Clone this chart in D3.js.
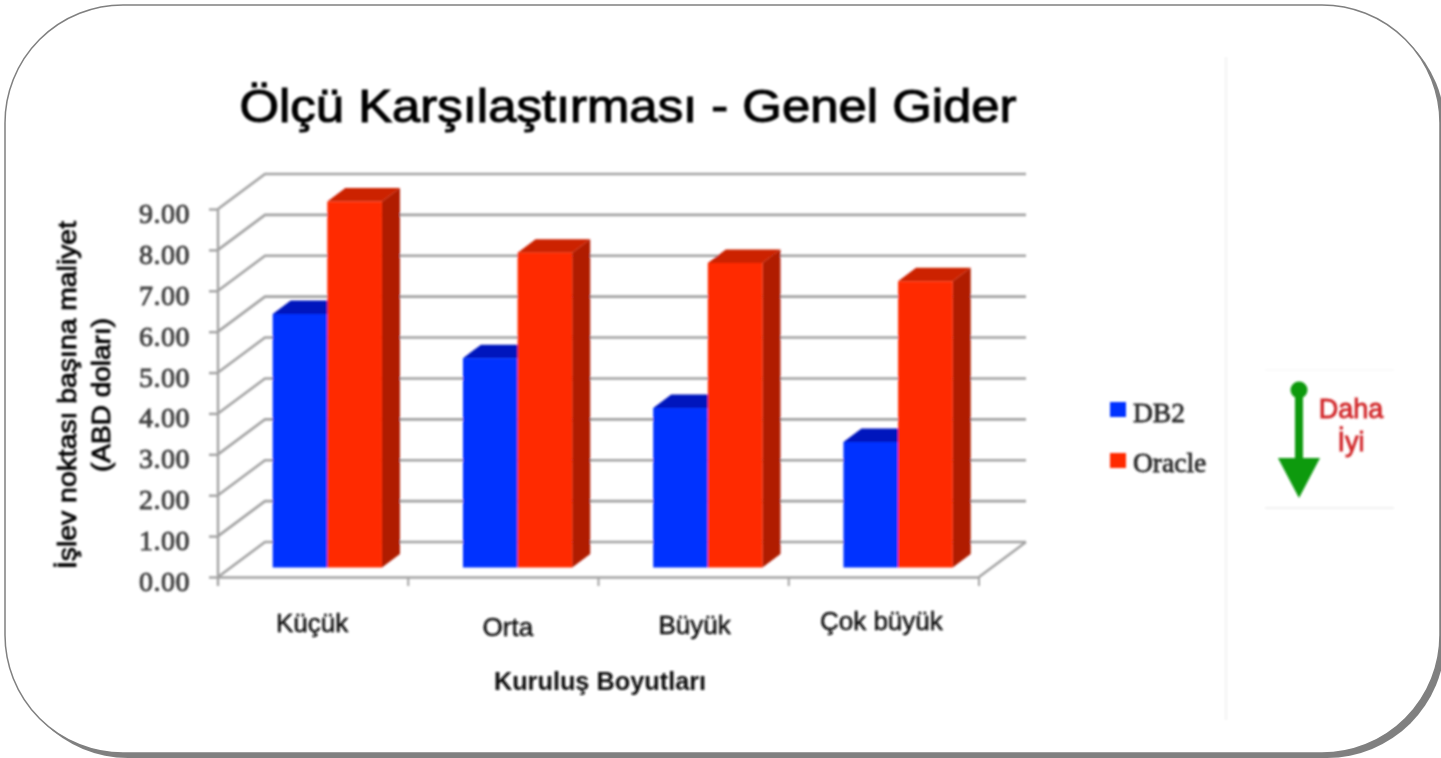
<!DOCTYPE html>
<html><head><meta charset="utf-8">
<script src="https://cdnjs.cloudflare.com/ajax/libs/d3/7.8.5/d3.min.js"></script>
<style>html,body{margin:0;padding:0;background:#fff;overflow:hidden}svg{display:block}</style>
</head><body><svg id="c" width="1441" height="758"></svg>
<script>
const titleText = "Ölçü Karşılaştırması - Genel Gider";
const categories = ["Küçük", "Orta", "Büyük", "Çok büyük"];
const seriesNames = ["DB2", "Oracle"];
const db2Values = [6.2, 5.12, 3.9, 3.07];
const oracleValues = [8.95, 7.7, 7.45, 7.0];
const yTicks = [0,1,2,3,4,5,6,7,8,9];
const yTitleLines = ["İşlev noktası başına maliyet", "(ABD doları)"];
const xTitle = "Kuruluş Boyutları";
const noteLines = ["Daha", "İyi"];

const SANS = "'Liberation Sans',Arial,sans-serif", SERIF = "'Liberation Serif',serif";
const svg = d3.select("#c");
const defs = svg.append("defs");
defs.append("filter").attr("id","soft").attr("filterUnits","userSpaceOnUse")
  .attr("x",0).attr("y",0).attr("width",1441).attr("height",758)
  .append("feGaussianBlur").attr("stdDeviation",0.95);

// frame
svg.append("rect").attr("x",10).attr("y",10).attr("width",1435).attr("height",748).attr("rx",118).attr("fill","#808080");
svg.append("rect").attr("x",5).attr("y",5).attr("width",1435).attr("height",748).attr("rx",118)
  .attr("fill","#fff").attr("stroke","#808080").attr("stroke-width",1.5);

const g = svg.append("g").attr("filter","url(#soft)");

const wall = {dx:47, dy:-35};
const plane = {dx:14.2, dy:-9.5};
const depth = {dx:18, dy:-13.5};
const x = d3.scaleBand().domain(categories).range([218,979]);
const s = d3.scaleBand().domain(seriesNames).range([40.5, x.bandwidth()-40.5]);
const y = d3.scaleLinear().domain([0,9]).range([577,209]);
const values = {DB2: db2Values, Oracle: oracleValues};
const colors = {
  DB2:{front:"#0433ff",top:"#0018bd",side:"#00129a"},
  Oracle:{front:"#ff2a00",top:"#cc2000",side:"#b01a00"}
};
const gridC = "#a2a2a2";

// walls
const grid = g.append("g");
grid.selectAll("path").data(yTicks).join("path")
  .attr("fill","none").attr("stroke",gridC).attr("stroke-width",2.6)
  .attr("d", t => d3.line()([[x.range()[0],y(t)],[x.range()[0]+wall.dx,y(t)+wall.dy],[x.range()[1]+wall.dx,y(t)+wall.dy]]));
grid.append("path").attr("fill","none").attr("stroke",gridC).attr("stroke-width",2.4)
  .attr("d", d3.line()([[x.range()[1],y(0)],[x.range()[1]+wall.dx,y(0)+wall.dy]]));

// axes
const yAxis = g.append("g").attr("transform",`translate(${x.range()[0]},0)`)
  .call(d3.axisLeft(y).tickValues(yTicks).tickSize(9).tickPadding(18).tickFormat(d3.format(".2f")));
yAxis.select(".domain").attr("stroke",gridC).attr("stroke-width",2.4).attr("d",`M0,${y(9)}V${y(0)+9}`);
yAxis.selectAll(".tick line").attr("stroke",gridC).attr("stroke-width",2.4);
yAxis.selectAll("text").attr("font-family",SERIF).attr("font-size",28).attr("letter-spacing",0.5)
  .attr("fill","#404040").attr("stroke","#404040").attr("stroke-width",0.9).attr("dx",-1).attr("dy","0.48em");

const xAxis = g.append("g").attr("transform",`translate(0,${y(0)})`)
  .call(d3.axisBottom(x).tickValues([]).tickSizeOuter(0));
xAxis.select(".domain").attr("stroke",gridC).attr("stroke-width",2.4);
g.append("g").selectAll("line").data(categories.concat("end")).join("line")
  .attr("x1",(d,i)=>x.range()[0]+i*x.step()).attr("x2",(d,i)=>x.range()[0]+i*x.step())
  .attr("y1",y(0)).attr("y2",y(0)+9).attr("stroke",gridC).attr("stroke-width",2);

// 3D bars
const poly = pts => d3.line()(pts)+"Z";
categories.forEach((c,ci)=>{
  seriesNames.forEach(n=>{
    const v = values[n][ci], col = colors[n];
    const x0 = x(c)+s(n)+plane.dx, x1 = x0+s.bandwidth();
    const yT = y(v)+plane.dy, yB = y(0)+plane.dy;
    g.append("path").attr("fill",col.side).attr("d",poly([[x1,yT],[x1+depth.dx,yT+depth.dy],[x1+depth.dx,yB+depth.dy],[x1,yB]]));
    g.append("path").attr("fill",col.top).attr("d",poly([[x0,yT],[x0+depth.dx,yT+depth.dy],[x1+depth.dx,yT+depth.dy],[x1,yT]]));
    g.append("rect").attr("fill",col.front).attr("x",x0).attr("y",yT).attr("width",x1-x0).attr("height",yB-yT);
  });
});

// category labels (hand-placed in the source slide)
const catNudge = [{dx:-1,y:632},{dx:4.5,y:636},{dx:1,y:634},{dx:-2.5,y:630}];
g.append("g").selectAll("text").data(categories).join("text")
  .attr("x",(d,i)=>x(d)+x.bandwidth()/2+catNudge[i].dx).attr("y",(d,i)=>catNudge[i].y)
  .attr("text-anchor","middle").attr("font-family",SANS).attr("font-size",26).attr("fill","#111")
  .attr("stroke","#111").attr("stroke-width",0.5).text(d=>d);

// titles
g.append("text").attr("x",628).attr("y",122).attr("text-anchor","middle").attr("font-family",SANS)
  .attr("font-size",47).attr("fill","#000").attr("stroke","#000").attr("stroke-width",1.1)
  .attr("textLength",777).attr("lengthAdjust","spacingAndGlyphs").text(titleText);
g.append("text").attr("x",600).attr("y",690).attr("text-anchor","middle").attr("font-family",SANS).attr("font-weight","bold")
  .attr("font-size",25.3).attr("fill","#111").text(xTitle);
[{px:76,len:348},{px:110,len:154}].forEach((o,i)=>{
  g.append("text").attr("transform",`translate(${o.px},395) rotate(-90)`).attr("text-anchor","middle")
   .attr("font-family",SANS).attr("font-size",25).attr("fill","#000").attr("stroke","#000").attr("stroke-width",0.8)
   .attr("textLength",o.len).attr("lengthAdjust","spacingAndGlyphs").text(yTitleLines[i]);
});

// legend
const legendY = d3.scalePoint().domain(seriesNames).range([409.5,460.5]);
const leg = g.append("g").selectAll("g").data(seriesNames).join("g").attr("transform",d=>`translate(1110,${legendY(d)})`);
leg.append("rect").attr("x",0).attr("y",-7.5).attr("width",16).attr("height",15).attr("fill",d=>colors[d].front);
leg.append("text").attr("x",23).attr("y",d=>d==="DB2"?12.5:11.5).attr("font-family",SERIF)
  .attr("font-size",27.5).attr("fill","#2c2c2c").attr("stroke","#2c2c2c").attr("stroke-width",0.8).text(d=>d);

// divider and note box
g.append("line").attr("x1",1226).attr("x2",1226).attr("y1",57).attr("y2",720).attr("stroke","#eeeeee").attr("stroke-width",1.5);
g.append("line").attr("x1",1265).attr("x2",1394).attr("y1",370).attr("y2",370).attr("stroke","#f6f6f6").attr("stroke-width",1.2);
g.append("line").attr("x1",1265).attr("x2",1394).attr("y1",508).attr("y2",508).attr("stroke","#e6e6e6").attr("stroke-width",1.2);
const green = "#0a9a10";
g.append("circle").attr("cx",1299).attr("cy",390).attr("r",8.5).attr("fill",green);
g.append("rect").attr("x",1295).attr("y",390).attr("width",8).attr("height",72).attr("fill",green);
g.append("path").attr("fill",green).attr("d",poly([[1278,458],[1320,458],[1299,498]]));
g.append("g").selectAll("text").data(noteLines).join("text").attr("x",1351).attr("y",(d,i)=>418+i*33)
  .attr("text-anchor","middle").attr("font-family",SANS).attr("font-size",27).attr("fill","#d1282a")
  .attr("stroke","#d1282a").attr("stroke-width",0.8).text(d=>d);
</script></body></html>
